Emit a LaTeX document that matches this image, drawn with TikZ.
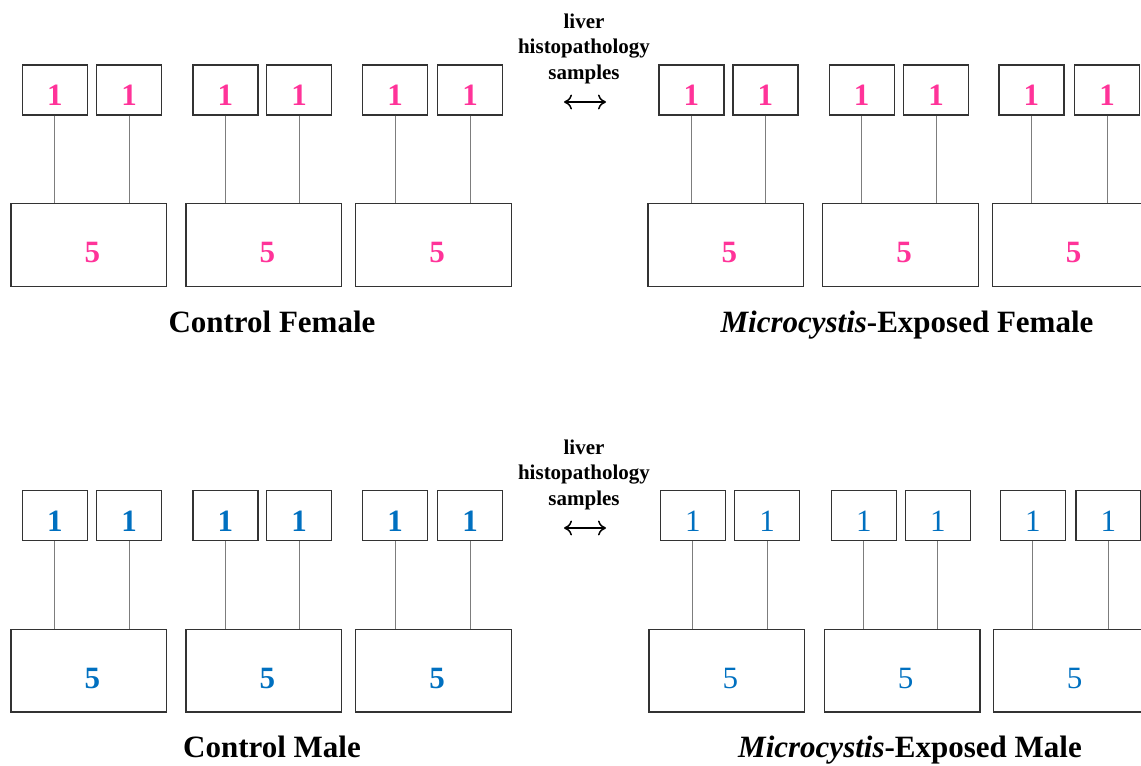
\documentclass[tikz,border=0pt]{standalone}
\usepackage{fontspec}
\setmainfont{Liberation Serif}
\usetikzlibrary{arrows.meta}

\definecolor{samplepink}{RGB}{255,51,153}
\definecolor{sampleblue}{RGB}{0,112,192}
\definecolor{boxline}{RGB}{51,51,51}
\definecolor{linkline}{RGB}{125,125,125}

\tikzset{
  fishbox/.style={draw=boxline, line width=1.3pt, inner sep=0pt, anchor=north west,
    minimum width=65pt, minimum height=50pt, text height=32pt, text depth=0pt},
  tankbox/.style={draw=boxline, line width=1.3pt, inner sep=0pt, anchor=north west,
    minimum width=155.7pt, minimum height=82.7pt, text height=35pt, text depth=0pt},
  pinkbold/.style={text=samplepink, font=\fontsize{31}{31}\selectfont\bfseries},
  bluebold/.style={text=sampleblue, font=\fontsize{31}{31}\selectfont\bfseries},
  bluereg/.style={text=sampleblue, font=\fontsize{31}{31}\selectfont},
  link/.style={draw=linkline, line width=1.2pt},
  grouplabel/.style={font=\fontsize{31}{31}\selectfont\bfseries, anchor=base, inner sep=0pt},
  midnote/.style={font=\fontsize{21}{25.4}\selectfont\bfseries, align=center, anchor=base, inner sep=0pt},
  swap/.style={line width=1.5pt, {To[length=8pt,width=15pt]}-{To[length=8pt,width=15pt]}}
}

\begin{document}
\begin{tikzpicture}[x=1pt, y=-1pt]
\useasboundingbox (0,0) rectangle (1141,766);

% tanks (large boxes) with their two sampled fish (small boxes)
\foreach \n/\lx/\sa/\sb/\dy/\st in {
  cf1/10.3/21.7/96/0/pinkbold, cf2/185.3/192.3/266/0/pinkbold, cf3/355/362/437/0/pinkbold,
  ef1/647.3/658.3/732.3/0/pinkbold, ef2/822/828.5/903/0/pinkbold, ef3/991.7/998.3/1074/0/pinkbold,
  cm1/10.3/21.7/96/425.7/bluebold, cm2/185.3/192.3/266/425.7/bluebold, cm3/355/362/437/425.7/bluebold,
  em1/648.3/659.7/734/425.7/bluereg, em2/823.7/830.7/904.7/425.7/bluereg, em3/992.7/999.7/1075.3/425.7/bluereg}
{
  \node[fishbox,\st] (\n-a) at (\sa,{64.3+\dy}) {1};
  \node[fishbox,\st] (\n-b) at (\sb,{64.3+\dy}) {1};
  \node[tankbox,\st] (\n-t) at (\lx,{203+\dy}) {\hspace*{7pt}5};
  \draw[link] (\n-a.south) -- (\n-a.south |- \n-t.north);
  \draw[link] (\n-b.south) -- (\n-b.south |- \n-t.north);
}

% group titles
\node[grouplabel] (lblCF) at (272,332) {Control Female};
\node[grouplabel] (lblEF) at (907,332) {\textit{Microcystis}-Exposed Female};
\node[grouplabel] (lblCM) at (272,757) {Control Male};
\node[grouplabel] (lblEM) at (910,757) {\textit{Microcystis}-Exposed Male};

% notes between control and exposed groups
\node[midnote] (noteF) at (584,79) {liver\\histopathology\\samples};
\node[midnote] (noteM) at (584,505) {liver\\histopathology\\samples};

\coordinate (arrFl) at (564,102);
\coordinate (arrFr) at (606,102);
\coordinate (arrMl) at (564,528);
\coordinate (arrMr) at (606,528);
\draw[swap] (arrFl) -- (arrFr);
\draw[swap] (arrMl) -- (arrMr);
\end{tikzpicture}
\end{document}
